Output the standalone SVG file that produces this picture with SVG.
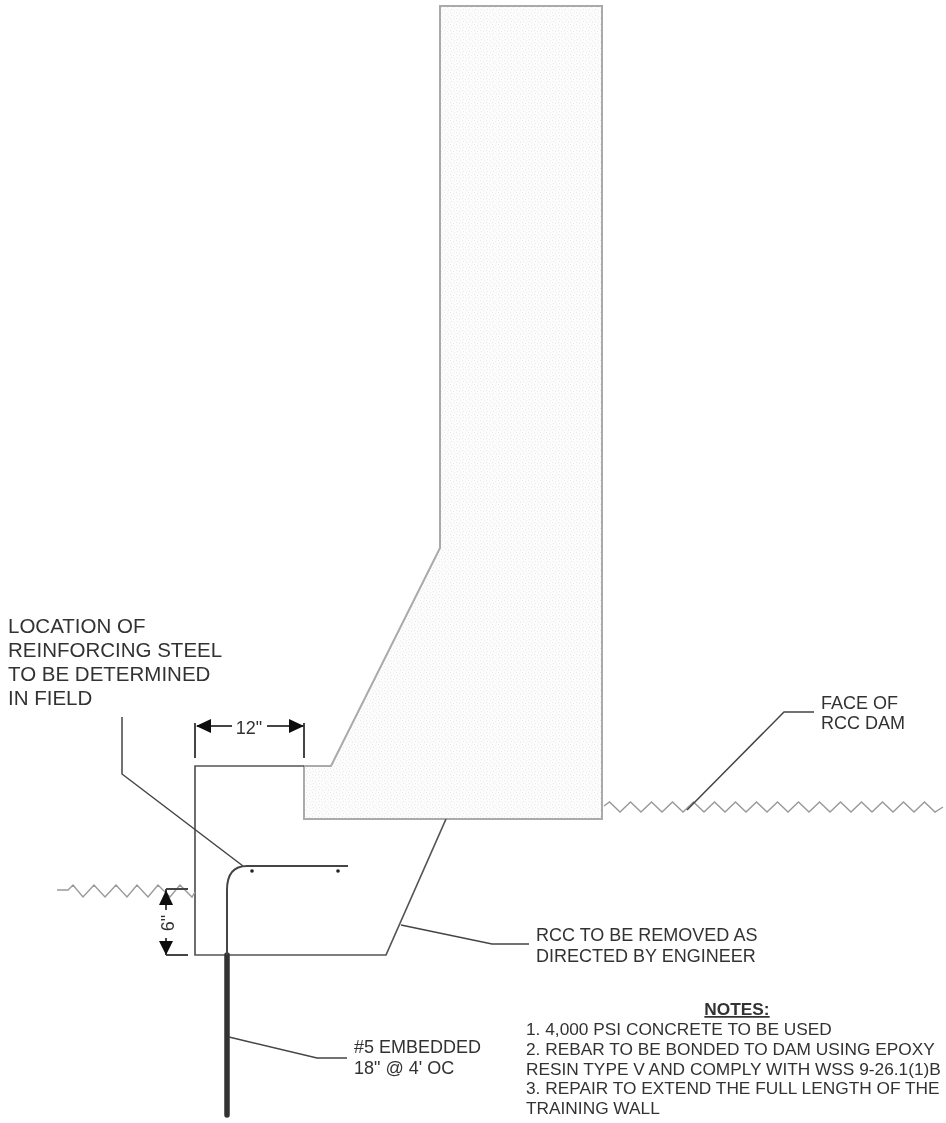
<svg xmlns="http://www.w3.org/2000/svg" width="946" height="1123" viewBox="0 0 946 1123">
<style>
text{font-family:"Liberation Sans",Arial,sans-serif;fill:#333;font-size:18px}
.loc{font-size:20.500px}
.note{font-size:17.300px}
.soft{filter:url(#b)}
.ln{fill:none;stroke:#444;stroke-width:1.5}
.gr{fill:none;stroke:#999;stroke-width:1.4}
.ar{fill:#111}
</style>
<defs>
<filter id="b" x="-5%" y="-5%" width="110%" height="110%"><feGaussianBlur stdDeviation="0.6"/></filter>
<pattern id="dots" width="6" height="6" patternUnits="userSpaceOnUse">
<rect width="6" height="6" fill="#fcfcfc"/>
<rect x="0" y="0" width="1" height="1" fill="#e8e8e8"/><rect x="3" y="1" width="1" height="1" fill="#ececec"/><rect x="1" y="3" width="1" height="1" fill="#e8e8e8"/><rect x="4" y="4" width="1" height="1" fill="#ececec"/>
</pattern>
</defs>
<rect width="946" height="1123" fill="#fff"/>
<g class="soft">
<g id="dam"><path d="M440 6H602V819H304V766H331L440 548Z" fill="url(#dots)" stroke="#aaa" stroke-width="2"/></g>
<g id="repair-outline"><path class="ln" d="M304 766H195V955H386L446 819" style="stroke:#555;stroke-width:1.700"/></g>
<g id="ground-lines">
<path class="gr" d="M604 806L609.500 802L620 812L630.500 802L641 812L651.500 802L662 812L672.500 802L683 812L693.500 802L704 812L714.500 802L725 812L735.500 802L746 812L756.500 802L767 812L777.500 802L788 812L798.500 802L809 812L819.500 802L830 812L840.500 802L851 812L861.500 802L872 812L882.500 802L893 812L903.500 802L914 812L924.500 802L935 812L943 807"/>
<path class="gr" d="M57 890H68L73 885L83 897L94 885L105 897L116 885L127 897L137 885L148 897L158 885L170 897L180 885L192 897L195 892"/>
</g>
<g id="rebar">
<path d="M227 955V1115" fill="none" stroke="#333" stroke-width="5.500" stroke-linecap="round"/>
<path class="ln" d="M227 955V890Q227 866 247 866H348" style="stroke-width:2"/>
<circle cx="252" cy="871" r="1.800" fill="#222"/><circle cx="338" cy="871" r="1.800" fill="#222"/>
</g>
<g id="connectors">
<path class="ln" d="M122 717V774L243 866"/>
<path class="ln" d="M687 810L784 712H814"/>
<path class="ln" d="M401 925L492 944H529"/>
<path class="ln" d="M229 1037L317 1058H347"/>
</g>
<g id="dim-12">
<path class="ln" d="M195 723V758M304 723V758M197 726H232M267 726H303" style="stroke-width:2"/>
<path class="ar" d="M196 726L211 719V733ZM304 726L289 719V733Z"/>
<text x="249" y="734" text-anchor="middle">12"</text>
</g>
<g id="dim-6">
<path class="ln" d="M166 889H188M166 955H188M166 889V910M166 938V955" style="stroke-width:2"/>
<path class="ar" d="M166 890L173 905H159ZM166 955L159 941H173Z"/>
<text transform="translate(174 923) rotate(-90)" text-anchor="middle">6"</text>
</g>
<g id="label-location"><text class="loc" x="8" y="633">LOCATION OF</text><text class="loc" x="8" y="657">REINFORCING STEEL</text><text class="loc" x="8" y="681">TO BE DETERMINED</text><text class="loc" x="8" y="705">IN FIELD</text></g>
<g id="label-face"><text x="821" y="709">FACE OF</text><text x="821" y="729">RCC DAM</text></g>
<g id="label-rcc"><text x="536" y="941">RCC TO BE REMOVED AS</text><text x="536" y="962">DIRECTED BY ENGINEER</text></g>
<g id="label-embedded"><text x="354" y="1053">#5 EMBEDDED</text><text x="354" y="1074">18" @ 4' OC</text></g>
<g id="notes">
<text class="note" x="737" y="1015" text-anchor="middle" style="font-weight:bold;text-decoration:underline">NOTES:</text>
<text class="note" x="526" y="1035">1. 4,000 PSI CONCRETE TO BE USED</text>
<text class="note" x="526" y="1055">2. REBAR TO BE BONDED TO DAM USING EPOXY</text>
<text class="note" x="526" y="1075">RESIN TYPE V AND COMPLY WITH WSS 9-26.1(1)B</text>
<text class="note" x="526" y="1094">3. REPAIR TO EXTEND THE FULL LENGTH OF THE</text>
<text class="note" x="526" y="1114">TRAINING WALL</text>
</g>
</g>
</svg>
